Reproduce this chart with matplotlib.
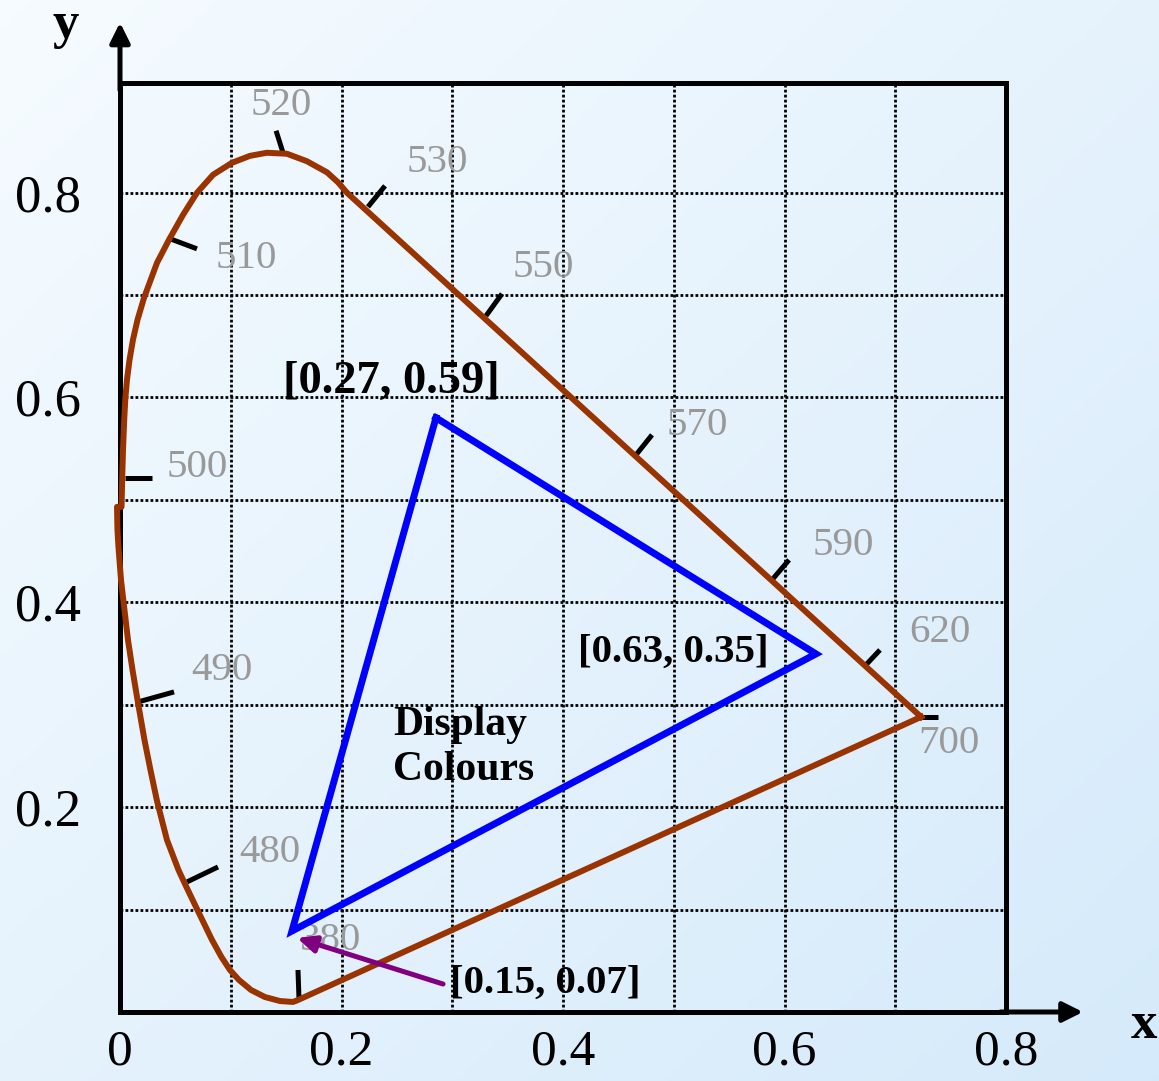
import numpy as np
import matplotlib.pyplot as plt

## spectral locus, closed through the line of purples
locus_x = [0.7233, 0.1607, 0.1562, 0.1445, 0.1309, 0.1183, 0.1074, 0.0993, 0.0916, 0.0831,
           0.0695, 0.0591, 0.0528, 0.0424, 0.0334, 0.0275, 0.0221, 0.0158, 0.0113, 0.0072,
           0.0032, 0.0009, -0.0014, -0.0023, -0.0027, 0.0014, 0.0020, 0.0027, 0.0038, 0.0048,
           0.0063, 0.0086, 0.0117, 0.0158, 0.0217, 0.0334, 0.0442, 0.0569, 0.0695, 0.0840,
           0.1011, 0.1174, 0.1327, 0.1508, 0.1688, 0.1869, 0.1968, 0.2050, 0.7233]
locus_y = [0.2881, 0.0117, 0.0098, 0.0107, 0.0146, 0.0215, 0.0313, 0.0410, 0.0537, 0.0703,
           0.1006, 0.1240, 0.1387, 0.1680, 0.2061, 0.2363, 0.2656, 0.3047, 0.3340, 0.3633,
           0.4004, 0.4219, 0.4541, 0.4707, 0.4932, 0.4932, 0.5215, 0.5488, 0.5781, 0.5986,
           0.6172, 0.6367, 0.6563, 0.6758, 0.6973, 0.7314, 0.7539, 0.7783, 0.7998, 0.8174,
           0.8291, 0.8359, 0.8389, 0.8379, 0.8306, 0.8198, 0.8101, 0.7998, 0.2881]

## wavelength marks: tick start / end and label position (baseline)
wl_names = ['380', '480', '490', '500', '510', '520', '530', '550', '570', '590', '620', '700']
tick_x0 = [0.1607, 0.0605, 0.0163, 0.0045, 0.0452, 0.1409, 0.2239, 0.3305, 0.4659, 0.5887, 0.6718, 0.7233]
tick_y0 = [0.0410, 0.1270, 0.3027, 0.5215, 0.7549, 0.8604, 0.7861, 0.6797, 0.5439, 0.4219, 0.3369, 0.2881]
tick_x1 = [0.1616, 0.0885, 0.0488, 0.0289, 0.0695, 0.1472, 0.2393, 0.3449, 0.4804, 0.6041, 0.6862, 0.7386]
tick_y1 = [0.0137, 0.1416, 0.3125, 0.5215, 0.7451, 0.8389, 0.8066, 0.7012, 0.5635, 0.4414, 0.3535, 0.2881]
wl_lx = [0.1905, 0.1354, 0.0921, 0.0695, 0.1138, 0.1454, 0.2862, 0.3819, 0.5210, 0.6528, 0.7404, 0.7485]
wl_ly = [0.0605, 0.1465, 0.3242, 0.5225, 0.7266, 0.8760, 0.8203, 0.7178, 0.5635, 0.4463, 0.3613, 0.2529]

## display gamut triangle
tri_x = [0.2853, 0.6284, 0.1553, 0.2853]
tri_y = [0.5801, 0.3496, 0.0791, 0.5801]

## corner labels
corner_names = ['[0.27, 0.59]', '[0.63, 0.35]', '[0.15, 0.07]']
corner_lx = [0.2448, 0.4993, 0.3837]
corner_ly = [0.6045, 0.3418, 0.0186]
corner_fs = [33.5, 29.5, 29.5]

gamut_text = ['Display', 'Colours']
gamut_tx = 0.2465
gamut_ty = [0.2705, 0.2266]

## purple pointer (tail -> tip)
arrow_tail = (0.2917, 0.0273)
arrow_tip = (0.1598, 0.0723)

xticks = [0, 0.2, 0.4, 0.6, 0.8]
xticklabels = ['0', '0.2', '0.4', '0.6', '0.8']
yticks = [0.2, 0.4, 0.6, 0.8]
yticklabels = ['0.2', '0.4', '0.6', '0.8']
grid_x = [0.1, 0.2, 0.3, 0.4, 0.5, 0.6, 0.7]
grid_y = [0.1, 0.2, 0.3, 0.4, 0.5, 0.6, 0.7, 0.8]

serif = 'Liberation Serif'

fig = plt.figure(figsize=(11.59, 10.81), dpi=100)

# light blue diagonal background
bg = fig.add_axes([0, 0, 1, 1], zorder=-10)
gx, gy = np.meshgrid(np.linspace(0, 1, 200), np.linspace(0, 1, 200))
t = (gx + gy) / 2
c0 = np.array([0.965, 0.985, 1.0])
c1 = np.array([0.835, 0.918, 0.982])
bg.imshow(c0 * (1 - t[..., None]) + c1 * t[..., None], aspect='auto', extent=[0, 1, 0, 1], origin='upper')
bg.axis('off')

ax = fig.add_axes([120 / 1159, 69 / 1081, 886 / 1159, 929 / 1081])
ax.patch.set_alpha(0)
ax.set_xlim(0, 0.8)
ax.set_ylim(0, 0.907)
for s in ax.spines.values():
    s.set_linewidth(3.6)
    s.set_color('black')

for v in grid_x:
    ax.axvline(v, color='black', lw=2, ls=(0, (1, 0.8)), zorder=1)
for v in grid_y:
    ax.axhline(v, color='black', lw=2, ls=(0, (1, 0.8)), zorder=1)

ax.set_xticks(xticks)
ax.set_xticklabels(xticklabels, fontfamily=serif, fontsize=37)
ax.set_yticks(yticks)
ax.set_yticklabels(yticklabels, fontfamily=serif, fontsize=38)
ax.tick_params(axis='x', length=0, pad=12)
ax.tick_params(axis='y', length=0, pad=28)

# axis arrows
head = '-|>,head_length=0.6,head_width=0.3'
ax.annotate('', xy=(0, 0.966), xytext=(0, 0.9), annotation_clip=False,
            arrowprops=dict(arrowstyle=head, color='black', lw=3.6, mutation_scale=20,
                            shrinkA=0, shrinkB=0))
ax.annotate('', xy=(0.8695, 0), xytext=(0.795, 0), annotation_clip=False,
            arrowprops=dict(arrowstyle=head, color='black', lw=3.6, mutation_scale=20,
                            shrinkA=0, shrinkB=0))
fig.text(66 / 1159, 1 - 38 / 1081, 'y', fontfamily=serif, fontweight='bold', fontsize=38,
         ha='center', va='baseline')
fig.text(1144 / 1159, 1 - 1038 / 1081, 'x', fontfamily=serif, fontweight='bold', fontsize=38,
         ha='center', va='baseline')

# locus
ax.plot(locus_x, locus_y, color='#993300', lw=4.3, solid_joinstyle='round', zorder=4, clip_on=False)

# wavelength ticks and labels
for i in range(len(wl_names)):
    ax.plot([tick_x0[i], tick_x1[i]], [tick_y0[i], tick_y1[i]], color='black', lw=3.6,
            solid_capstyle='butt', zorder=3)
    ax.text(wl_lx[i], wl_ly[i], wl_names[i], color='#999999', fontfamily=serif, fontsize=29.5,
            ha='center', va='baseline', zorder=2)

# display triangle
ax.plot(tri_x, tri_y, color='#0000ff', lw=5, solid_joinstyle='miter', zorder=5)

ax.annotate('', xy=arrow_tip, xytext=arrow_tail,
            arrowprops=dict(arrowstyle='-|>,head_length=0.55,head_width=0.25', color='#800080',
                            lw=3.6, mutation_scale=20, shrinkA=0, shrinkB=0), zorder=6)

for i in range(len(corner_names)):
    ax.text(corner_lx[i], corner_ly[i], corner_names[i], fontfamily=serif, fontweight='bold',
            fontsize=corner_fs[i], ha='center', va='baseline', zorder=7)
for i in range(len(gamut_text)):
    ax.text(gamut_tx, gamut_ty[i], gamut_text[i], fontfamily=serif, fontweight='bold',
            fontsize=30, ha='left', va='baseline', zorder=7)

fig.savefig('out.png', dpi=100)
